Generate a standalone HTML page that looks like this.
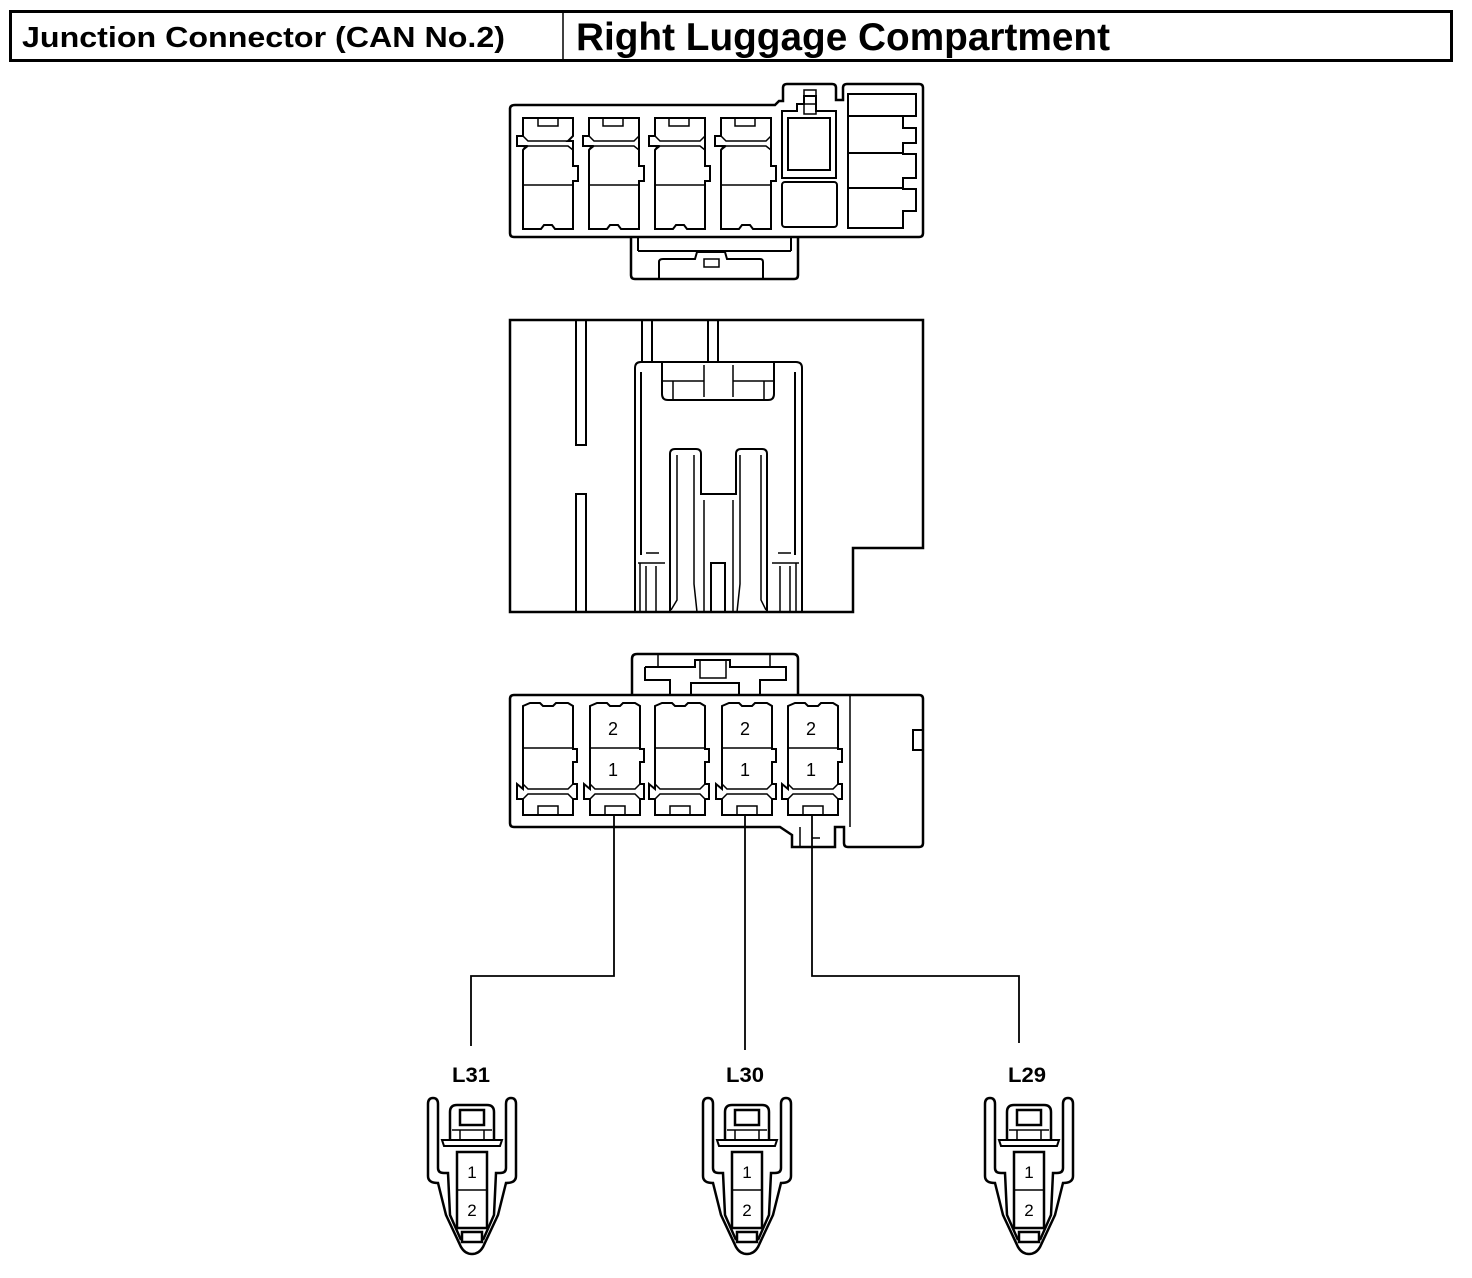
<!DOCTYPE html>
<html><head><meta charset="utf-8"><style>
html,body{margin:0;padding:0;background:#fff;}
svg{display:block;}
text{font-family:"Liberation Sans",sans-serif;font-weight:bold;fill:#000;}
</style></head><body>
<svg width="1472" height="1278" viewBox="0 0 1472 1278" xmlns="http://www.w3.org/2000/svg">
<defs>
<g id="sc" fill="none" stroke="#000" stroke-width="2.5">
  <path d="M433,1098 Q428,1098 428,1104 L428,1176 Q428,1183 438,1183 L446,1215 L461,1247 Q465,1254 472,1254 Q479,1254 483,1247 L498,1215 L506,1183 Q516,1183 516,1176 L516,1104 Q516,1098 511,1098 Q506,1098 506,1104 L506,1168 Q506,1173 500,1173 L496,1173 L494,1215 L483,1240 M433,1098 Q438,1098 438,1104 L438,1168 Q438,1173 444,1173 L448,1173 L450,1215 L461,1240"/>
  <path d="M450,1140 L450,1112 Q450,1105 457,1105 L487,1105 Q494,1105 494,1112 L494,1140"/>
  <path d="M442,1140 L502,1140 L500,1146 L444,1146 Z" stroke-width="2"/>
  <rect x="460" y="1110" width="24" height="15"/>
  <line x1="460" y1="1130" x2="460" y2="1140" stroke-width="1.5"/>
  <line x1="484" y1="1130" x2="484" y2="1140" stroke-width="1.5"/>
  <line x1="452" y1="1130" x2="492" y2="1130" stroke-width="1.5"/>
  <rect x="457" y="1152" width="30" height="76"/>
  <line x1="457" y1="1190" x2="487" y2="1190" stroke-width="1.5"/>
  <rect x="462" y="1232" width="20" height="10"/>
</g>
<g id="c1" fill="none" stroke="#000" stroke-width="2">
  <path d="M528,118 L568,118 L568,132 L573,137 L573,166 L578,166 L578,182 L573,182 L573,229 L553,229 L550,224 L540,224 L537,229 L523,229 L523,182 L518,182 L518,166 L523,166 L523,137 L528,132 Z" transform="translate(-5,0)"/>
</g>
</defs>

<!-- Header -->
<rect x="10.5" y="11.5" width="1441" height="49" fill="none" stroke="#000" stroke-width="3"/>
<line x1="563" y1="11" x2="563" y2="61" stroke="#000" stroke-width="1.5"/>
<text x="22" y="47" font-size="29" textLength="483" lengthAdjust="spacingAndGlyphs">Junction Connector (CAN No.2)</text>
<text x="576" y="50" font-size="39" textLength="534" lengthAdjust="spacingAndGlyphs">Right Luggage Compartment</text>

<!-- Top connector -->
<g fill="none" stroke="#000" stroke-width="2.5">
  <path d="M515,105 L775,105 L779,101 L783,101 L783,88 Q783,84 787,84 L832,84 Q836,84 836,88 L836,100 L843,100 L843,88 Q843,84 847,84 L919,84 Q923,84 923,88 L923,233 Q923,237 919,237 L514,237 Q510,237 510,233 L510,109 Q510,105 515,105 Z"/>
  <path d="M631,237 L631,275 Q631,279 635,279 L794,279 Q798,279 798,275 L798,237"/>
  <path d="M659,279 L659,262 Q659,259 663,259 L695,259 L697,252 L725,252 L727,259 L760,259 Q763,259 763,262 L763,279" stroke-width="2"/>
  <line x1="638" y1="251" x2="791" y2="251" stroke-width="2"/>
  <line x1="638" y1="237" x2="638" y2="251" stroke-width="2"/>
  <line x1="791" y1="237" x2="791" y2="251" stroke-width="2"/>
  <rect x="704" y="259" width="15" height="8" stroke-width="1.5"/>
  <!-- 4 cavities -->
  <g stroke-width="2">
    <path d="M523,118 L573,118 L573,136 L568,141 L573,141 L573,166 L578,166 L578,181 L573,181 L573,229 L555,229 L552,225 L544,225 L541,229 L523,229 L523,150 L526,146 L517,146 L517,136 L523,136 Z"/>
    <path d="M589,118 L639,118 L639,136 L639,141 L639,166 L644,166 L644,181 L639,181 L639,229 L621,229 L618,225 L610,225 L607,229 L589,229 L589,150 L592,146 L583,146 L583,136 L589,136 Z"/>
    <path d="M655,118 L705,118 L705,141 L705,166 L710,166 L710,181 L705,181 L705,229 L687,229 L684,225 L676,225 L673,229 L655,229 L655,150 L658,146 L649,146 L649,136 L655,136 Z"/>
    <path d="M721,118 L771,118 L771,141 L771,166 L776,166 L776,181 L771,181 L771,229 L753,229 L750,225 L742,225 L739,229 L721,229 L721,150 L724,146 L715,146 L715,136 L721,136 Z"/>
  </g>
  <g stroke-width="1.5">
    <rect x="538" y="118" width="20" height="8"/><rect x="603" y="118" width="20" height="8"/><rect x="669" y="118" width="20" height="8"/><rect x="735" y="118" width="20" height="8"/>
    <path d="M523,136 L528,141 L568,141 L573,136 M523,150 L528,146 L568,146 L573,150"/>
    <path d="M589,136 L594,141 L634,141 L639,136 M589,150 L594,146 L634,146 L639,150"/>
    <path d="M655,136 L660,141 L700,141 L705,136 M655,150 L660,146 L700,146 L705,150"/>
    <path d="M721,136 L726,141 L766,141 L771,136 M721,150 L726,146 L766,146 L771,150"/>
    <line x1="523" y1="185" x2="573" y2="185"/><line x1="589" y1="185" x2="639" y2="185"/><line x1="655" y1="185" x2="705" y2="185"/><line x1="721" y1="185" x2="771" y2="185"/>
  </g>
  <!-- 5th -->
  <g stroke-width="2">
    <path d="M782,124 L782,178 L836,178 L836,111 L816,111 L816,96 L804,96 L804,104 L797,104 L797,111 L782,111 Z" transform="translate(0,0)"/>
    <rect x="788" y="118" width="42" height="52"/>
    <rect x="804" y="90" width="12" height="24" stroke-width="1.5"/>
    <line x1="804" y1="104" x2="816" y2="104" stroke-width="1.5"/>
    <rect x="782" y="182" width="55" height="45" rx="3"/>
    <rect x="848" y="94" width="68" height="22"/>
    <path d="M848,116 L848,228 L903,228 L903,211 L916,211 L916,189 L903,189 L903,178 L916,178 L916,154 L903,154 L903,143 L916,143 L916,128 L903,128 L903,116"/>
    <line x1="848" y1="153" x2="903" y2="153"/><line x1="848" y1="188" x2="903" y2="188"/>
  </g>
</g>

<!-- Middle connector -->
<g fill="none" stroke="#000" stroke-width="2.5">
  <path d="M510,320 L923,320 L923,548 L853,548 L853,612 L510,612 Z"/>
  <g stroke-width="2">
    <path d="M576,320 L576,445 L586,445 L586,320"/>
    <path d="M576,612 L576,494 L586,494 L586,612"/>
    <path d="M642,320 L642,362 M652,320 L652,362 M708,320 L708,362 M718,320 L718,362"/>
    <path d="M635,612 L635,368 Q635,362 641,362 L796,362 Q802,362 802,368 L802,612"/>
    <path d="M641,555 L641,372 M795,555 L795,372"/>
    <path d="M662,362 L662,394 Q662,400 668,400 L768,400 Q774,400 774,394 L774,362"/>
    <path d="M662,381 L704,381 M733,381 L774,381 M673,381 L673,400 M764,381 L764,400 M704,365 L704,397 M733,365 L733,397" stroke-width="1.5"/>
    <path d="M670,612 L670,454 Q670,449 675,449 L696,449 Q701,449 701,454 L701,494 L736,494 L736,454 Q736,449 741,449 L762,449 Q767,449 767,454 L767,612"/>
    <path d="M677,455 L677,600 L671,610 M694,455 L694,584 L697,612 M740,455 L740,584 L737,612 M761,455 L761,600 L766,610 M704,500 L704,612 M733,500 L733,612" stroke-width="1.5"/>
    <path d="M711,612 L711,563 L725,563 L725,612"/>
    <path d="M638,563 L665,563 M646,553 L659,553 M640,563 L640,612 M646,566 L646,612 M656,566 L656,612" stroke-width="1.5"/>
    <path d="M772,563 L799,563 M778,553 L791,553 M780,566 L780,612 M790,566 L790,612 M796,563 L796,612" stroke-width="1.5"/>
  </g>
</g>

<!-- Bottom connector -->
<g fill="none" stroke="#000" stroke-width="2.5">
  <path d="M632,695 L632,659 Q632,654 637,654 L793,654 Q798,654 798,659 L798,695"/>
  <path d="M514,695 L919,695 Q923,695 923,699 L923,843 Q923,847 919,847 L848,847 Q844,847 844,843 L844,827 L835,827 L835,847 L792,847 L792,835 L780,827 L514,827 Q510,827 510,823 L510,699 Q510,695 514,695 Z"/>
  <g stroke-width="2">
    <path d="M645,667 L695,667 L695,660 L730,660 L730,667 L786,667 L786,680 L760,680 L760,695 M645,667 L645,680 L670,680 L670,695 M691,695 L691,683 L739,683 L739,695"/>
    <line x1="658" y1="655" x2="658" y2="667" stroke-width="1.5"/><line x1="770" y1="655" x2="770" y2="667" stroke-width="1.5"/>
    <rect x="700" y="660" width="26" height="18" stroke-width="1.5"/>
    <line x1="850" y1="695" x2="850" y2="827" stroke-width="1.5"/>
    <rect x="913" y="730" width="10" height="20"/>
  </g>
  <g stroke-width="2" id="bc">
    <path d="M523,815 L523,799 L517,799 L517,784 L523,789 L523,706 L530,703 L540,703 L543,706 L553,706 L556,703 L568,703 L573,706 L573,749 L577,749 L577,762 L573,762 L573,784 L577,784 L577,799 L573,799 L573,815 Z"/>
    <path d="M523,799 L528,794 L568,794 L573,799 M523,784 L528,789 L568,789 L573,784" stroke-width="1.5"/>
    <rect x="538" y="806" width="20" height="9" stroke-width="1.5"/>
    <line x1="523" y1="748" x2="573" y2="748" stroke-width="1.5"/>
  </g>
  <use href="#bc" x="67"/>
  <use href="#bc" x="132"/>
  <use href="#bc" x="199"/>
  <use href="#bc" x="265"/>
  <path d="M800,827 L800,847 M812,838 L820,838" stroke-width="1.5"/>
</g>
<g font-size="18" style="font-weight:normal">
  <text x="613" y="735" text-anchor="middle" style="font-weight:normal">2</text>
  <text x="613" y="776" text-anchor="middle" style="font-weight:normal">1</text>
  <text x="745" y="735" text-anchor="middle" style="font-weight:normal">2</text>
  <text x="745" y="776" text-anchor="middle" style="font-weight:normal">1</text>
  <text x="811" y="735" text-anchor="middle" style="font-weight:normal">2</text>
  <text x="811" y="776" text-anchor="middle" style="font-weight:normal">1</text>
</g>

<!-- Wires -->
<g fill="none" stroke="#000" stroke-width="1.8">
  <path d="M614,815 L614,976 L471,976 L471,1046"/>
  <path d="M745,815 L745,1050"/>
  <path d="M812,815 L812,976 L1019,976 L1019,1043"/>
</g>

<text x="471" y="1082" font-size="21" text-anchor="middle" textLength="38" lengthAdjust="spacingAndGlyphs">L31</text>
<text x="745" y="1082" font-size="21" text-anchor="middle" textLength="38" lengthAdjust="spacingAndGlyphs">L30</text>
<text x="1027" y="1082" font-size="21" text-anchor="middle" textLength="38" lengthAdjust="spacingAndGlyphs">L29</text>

<!-- Small connectors -->
<use href="#sc"/>
<use href="#sc" x="275"/>
<use href="#sc" x="557"/>
<g font-size="17">
  <text x="472" y="1178" text-anchor="middle" style="font-weight:normal">1</text>
  <text x="472" y="1216" text-anchor="middle" style="font-weight:normal">2</text>
  <text x="747" y="1178" text-anchor="middle" style="font-weight:normal">1</text>
  <text x="747" y="1216" text-anchor="middle" style="font-weight:normal">2</text>
  <text x="1029" y="1178" text-anchor="middle" style="font-weight:normal">1</text>
  <text x="1029" y="1216" text-anchor="middle" style="font-weight:normal">2</text>
</g>
</svg>
</body></html>
